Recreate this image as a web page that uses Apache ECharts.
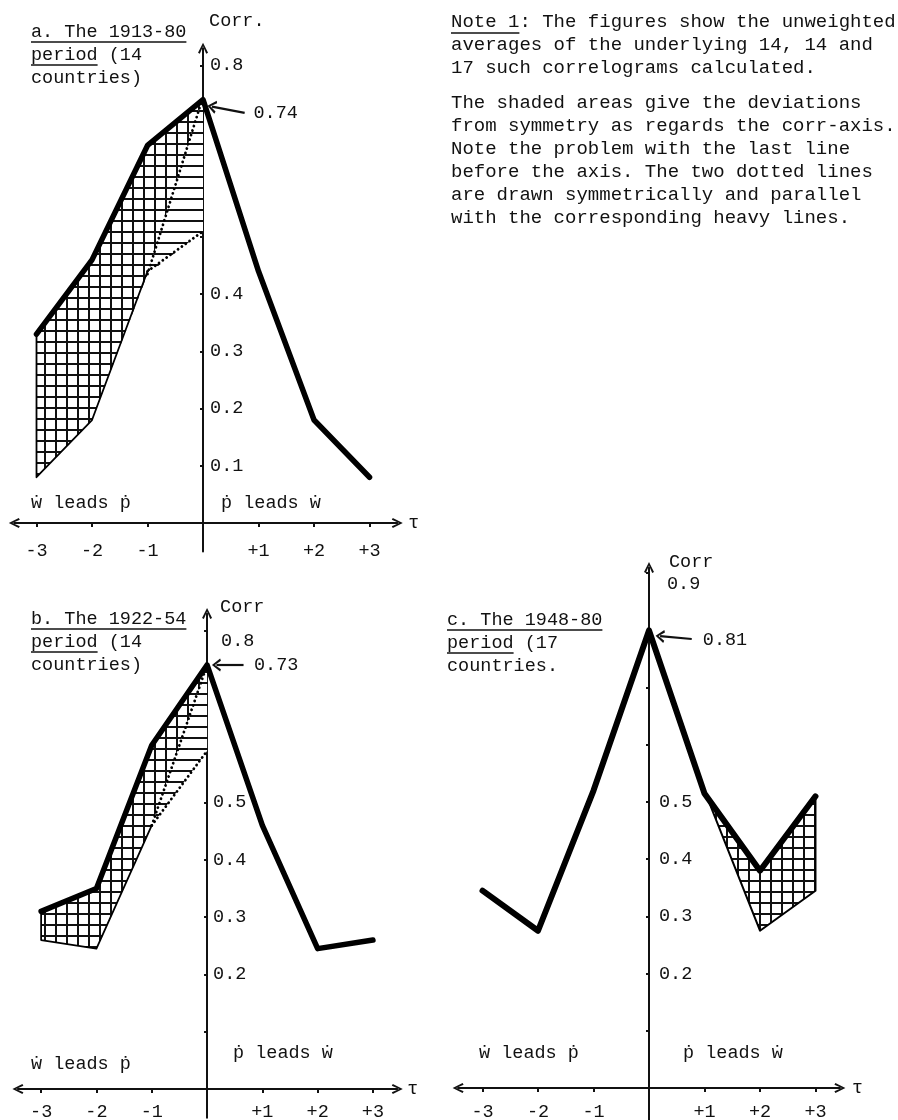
<!DOCTYPE html>
<html><head><meta charset="utf-8">
<script src="https://cdn.jsdelivr.net/npm/echarts@6/dist/echarts.min.js"></script>
<style>html,body{margin:0;padding:0;background:#fff}#c{width:898px;height:1120px}</style>
</head><body><div id="c"></div>
<script>
// ---- data ----
const tau = [-3, -2, -1, 0, 1, 2, 3];
const corrA = [0.33, 0.46, 0.66, 0.74, 0.44, 0.18, 0.08];   // a. 1913-80
const corrB = [0.31, 0.35, 0.60, 0.74, 0.46, 0.245, 0.26];  // b. 1922-54
const corrC = [0.345, 0.275, 0.52, 0.80, 0.515, 0.38, 0.51]; // c. 1948-80
// mirrored (symmetric) boundaries of the shaded areas
const tauLeft = [-3, -2, -1, 0];
const mirrorA = [0.08, 0.18, 0.44, 0.74];
const mirrorB = [0.26, 0.245, 0.46, 0.74];
const tauRight = [0, 1, 2, 3];
const mirrorC = [0.80, 0.52, 0.275, 0.345];
// dotted lines (tau -1 -> 0)
const tauDot = [-1, 0];
const dotSteepA = [0.435, 0.745];
const dotGentleA = [0.44, 0.51];
const dotSteepB = [0.46, 0.74];
const dotGentleB = [0.46, 0.59];
const peakLabels = ['0.74', '0.73', '0.81'];
const xTickValues = [-3, -2, -1, 1, 2, 3];
const yTicksA = [0.1, 0.2, 0.3, 0.4, 0.5, 0.6, 0.7, 0.8];
const yTicksB = [0.1, 0.2, 0.3, 0.4, 0.5, 0.6, 0.7, 0.8];
const yTicksC = [0.1, 0.2, 0.3, 0.4, 0.5, 0.6, 0.7, 0.8, 0.9];
const yLabelsA = [0.1, 0.2, 0.3, 0.4, 0.8];
const yLabelsB = [0.2, 0.3, 0.4, 0.5, 0.8];
const yLabelsC = [0.2, 0.3, 0.4, 0.5, 0.9];
const titleA = ['a. The 1913-80', 'period (14', 'countries)'];
const titleB = ['b. The 1922-54', 'period (14', 'countries)'];
const titleC = ['c. The 1948-80', 'period (17', 'countries.'];
const noteLines = [
  'Note 1: The figures show the unweighted',
  'averages of the underlying 14, 14 and',
  '17 such correlograms calculated.',
  'The shaded areas give the deviations',
  'from symmetry as regards the corr-axis.',
  'Note the problem with the last line',
  'before the axis. The two dotted lines',
  'are drawn symmetrically and parallel',
  'with the corresponding heavy lines.'
];
const leadLeft = '\u1E87 leads \u1E57';
const leadRight = '\u1E57 leads \u1E87';

// ---- styling ----
const FONT = "'Liberation Mono','Courier New',monospace";
const FS = 18.5;
const INK = '#111';
const CW = 11.1; // char width at FS

function hatch(cross) {
  const c = document.createElement('canvas');
  c.width = 11; c.height = 11;
  const g = c.getContext('2d');
  g.fillStyle = '#fff'; g.fillRect(0, 0, 11, 11);
  g.fillStyle = '#111';
  g.fillRect(0, 0, 11, 2);
  if (cross) g.fillRect(0, 0, 2, 11);
  return c;
}
const crossImg = hatch(true), horizImg = hatch(false);

const chevron = 'path://M0,10 L5,0 L10,10 L8.2,11 L5,3.6 L1.8,11 Z';

function pairs(xs, ys) { return xs.map((x, i) => [x, ys[i]]); }

const gridBoxes = [
  {left: 14.3, top: 48.2, width: 383, height: 503.4},
  {left: 17.9, top: 613.4, width: 379.4, height: 504.3},
  {left: 458.1, top: 567.5, width: 381.8, height: 552}
];
const grids = gridBoxes.map(g => Object.assign({}, g, {outerBoundsMode: 'none', containLabel: false}));

const xRanges = [[-3.4, 3.5], [-3.42, 3.44], [-3.44, 3.44]];
const yRanges = [[-0.05, 0.83], [-0.05, 0.83], [-0.055, 0.91]];
const xLabelMargin = [19, 14, 15];
const tauGap = [11, 10, 12];
const corrName = ['Corr.', 'Corr', 'Corr'];
const corrGap = [27, 6, 5];
const corrPad = [6, 13, 20];
const yLabMargin = [7, 6, 10];
const yTicks = [yTicksA, yTicksB, yTicksC];
const yLabels = [yLabelsA, yLabelsB, yLabelsC];
// top label of b and c sits a little lower/right of its tick in the original
const yTopLabel = [null, 0.8, 0.9];

// axes cross at zero: move each axis from the grid edge to the zero of the other axis
const xAxis = xRanges.map((r, i) => {
  const yr = yRanges[i];
  const off = -gridBoxes[i].height * (0 - yr[0]) / (yr[1] - yr[0]);
  return {
    gridIndex: i, type: 'value', min: r[0], max: r[1], position: 'bottom', offset: off,
    axisLine: {onZero: false, lineStyle: {color: INK, width: 2.2},
      symbol: [chevron, chevron], symbolSize: [14, 11]},
    axisTick: {customValues: xTickValues, length: 4, lineStyle: {color: INK, width: 2}},
    axisLabel: {customValues: xTickValues, margin: xLabelMargin[i], color: INK,
      fontFamily: FONT, fontSize: FS, hideOverlap: false,
      formatter: v => (v > 0 ? '+' : '-') + Math.abs(v)},
    splitLine: {show: false},
    name: '\u03C4', nameLocation: 'end', nameGap: tauGap[i], nameMoveOverlap: false,
    nameTextStyle: {color: INK, fontFamily: FONT, fontSize: FS, align: 'left',
      verticalAlign: 'middle', padding: [14, 0, 0, 0]}
  };
});

const yAxis = yRanges.map((r, i) => {
  const xr = xRanges[i];
  const off = -gridBoxes[i].width * (0 - xr[0]) / (xr[1] - xr[0]);
  return {
    gridIndex: i, type: 'value', min: r[0], max: r[1], position: 'left', offset: off,
    axisLine: {onZero: false, lineStyle: {color: INK, width: 2},
      symbol: ['none', chevron], symbolSize: [11, 11]},
    axisTick: {customValues: yTicks[i], length: 3, lineStyle: {color: INK, width: 2}},
    axisLabel: {customValues: yLabels[i], inside: true, margin: yLabMargin[i], color: INK,
      fontFamily: FONT, fontSize: FS, hideOverlap: false,
      formatter: v => (yTopLabel[i] !== null && Math.abs(v - yTopLabel[i]) < 1e-6)
        ? '{top|' + v.toFixed(1) + '}' : v.toFixed(1),
      rich: {top: {fontFamily: FONT, fontSize: FS, color: INK, padding: [22, 0, 0, 8]}}},
    splitLine: {show: false},
    name: corrName[i], nameLocation: 'end', nameGap: corrGap[i], nameMoveOverlap: false,
    nameTextStyle: {color: INK, fontFamily: FONT, fontSize: FS, align: 'left',
      verticalAlign: 'middle', padding: [0, 0, 0, corrPad[i]]}
  };
});

function polySeries(idx, pts, img) {
  return {
    type: 'custom', xAxisIndex: idx, yAxisIndex: idx, coordinateSystem: 'cartesian2d',
    data: pts, silent: true, z: 1, clip: false,
    renderItem: (params, api) => {
      if (params.dataIndex !== 0) return null;
      return {type: 'polygon', shape: {points: pts.map(p => api.coord(p))},
        style: {fill: {image: img, repeat: 'repeat'}, stroke: null}};
    }
  };
}
function lineSeries(idx, data, width, type, extra) {
  return Object.assign({
    type: 'line', xAxisIndex: idx, yAxisIndex: idx, data: data, symbol: 'none',
    silent: true, animation: false, z: 3,
    lineStyle: {color: '#000', width: width, type: type || 'solid', cap: 'round', join: 'round'}
  }, extra || {});
}
function peakAnnot(idx, from, to, labelAt, text) {
  return {
    type: 'line', xAxisIndex: idx, yAxisIndex: idx, data: [], silent: true,
    markLine: {silent: true, animation: false, symbol: ['none', chevron], symbolSize: [13, 9],
      lineStyle: {color: INK, width: 2.2, type: 'solid'}, label: {show: false},
      data: [[{coord: from}, {coord: to}]]},
    markPoint: {silent: true, animation: false, symbol: 'circle', symbolSize: 1,
      itemStyle: {color: 'rgba(0,0,0,0)'},
      label: {show: true, position: 'right', distance: 0, color: INK, fontFamily: FONT,
        fontSize: FS, formatter: text},
      data: [{coord: labelAt}]}
  };
}

// shaded polygons
const polyA = pairs(tau.slice(0, 4), corrA.slice(0, 4)).concat(
  pairs([0, -1], [dotSteepA[1], dotSteepA[0]]), pairs([-2, -3], [mirrorA[1], mirrorA[0]]));
const triA = pairs([-1, 0, 0], [dotSteepA[0], dotSteepA[1], dotGentleA[1]]);
const polyB = pairs(tau.slice(0, 4), corrB.slice(0, 4)).concat(
  pairs([0, -1], [dotSteepB[1], dotSteepB[0]]), pairs([-2, -3], [mirrorB[1], mirrorB[0]]));
const triB = pairs([-1, 0, 0], [dotSteepB[0], dotSteepB[1], dotGentleB[1]]);
const polyC = pairs(tau.slice(3), corrC.slice(3)).concat(pairs(tauRight.slice().reverse(), mirrorC.slice().reverse()));

const DOT = [0.1, 4.6];
const series = [
  polySeries(0, polyA, crossImg),
  polySeries(0, triA, horizImg),
  polySeries(1, polyB, crossImg),
  polySeries(1, triB, horizImg),
  polySeries(2, polyC, crossImg),
  // outlines of shaded areas
  lineSeries(0, [[-3, corrA[0]]].concat(pairs(tauLeft.slice(0, 3), mirrorA.slice(0, 3))), 1.8),
  lineSeries(1, [[-3, corrB[0]]].concat(pairs(tauLeft.slice(0, 3), mirrorB.slice(0, 3))), 1.8),
  lineSeries(2, [[3, corrC[6]]].concat(pairs(tauRight.slice().reverse(), mirrorC.slice().reverse())), 2),
  // dotted lines
  lineSeries(0, pairs(tauDot, dotSteepA), 2.8, DOT),
  lineSeries(0, pairs(tauDot, dotGentleA), 2.8, DOT),
  lineSeries(1, pairs(tauDot, dotSteepB), 2.8, DOT),
  lineSeries(1, pairs(tauDot, dotGentleB), 2.8, DOT),
  // heavy correlogram lines
  lineSeries(0, pairs(tau, corrA), 5.5, 'solid', {z: 5}),
  lineSeries(1, pairs(tau, corrB), 5.5, 'solid', {z: 5}),
  lineSeries(2, pairs(tau, corrC), 6, 'solid', {z: 5}),
  // peak annotations
  peakAnnot(0, [0.75, 0.717], [0.16, 0.728], [0.9, 0.717], peakLabels[0]),
  peakAnnot(1, [0.66, 0.74], [0.17, 0.74], [0.84, 0.74], peakLabels[1]),
  peakAnnot(2, [0.77, 0.785], [0.2, 0.79], [0.96, 0.783], peakLabels[2])
];

// texts
const graphic = [];
function txt(x, y, s, fs) {
  graphic.push({type: 'text', x: x, y: y, silent: true,
    style: {text: s, fill: INK, fontFamily: FONT, fontSize: fs || FS, verticalAlign: 'middle', align: 'left'}});
}
function uline(x, y, nChars, cw) {
  graphic.push({type: 'line', silent: true,
    shape: {x1: x, y1: y, x2: x + nChars * (cw || CW), y2: y}, style: {stroke: INK, lineWidth: 1.6}});
}
function title(x, ys, lines) {
  lines.forEach((l, i) => txt(x, ys[i], l));
  uline(x, ys[0] + 10, lines[0].length);
  uline(x, ys[1] + 10, 6);
}
title(31, [32, 55, 78], titleA);
title(31, [619, 642, 665], titleB);
title(447, [620, 643, 666], titleC);
const noteY = [22, 45, 68, 103, 126, 149, 172, 195, 218];
noteLines.forEach((l, i) => txt(451, noteY[i], l, 19));
uline(451, 33, 6, 11.4);
txt(31, 503, leadLeft); txt(221, 503, leadRight);
txt(31, 1064, leadLeft); txt(233, 1053, leadRight);
txt(479, 1053, leadLeft); txt(683, 1053, leadRight);

const chart = echarts.init(document.getElementById('c'), null, {renderer: 'canvas'});
chart.setOption({
  animation: false,
  backgroundColor: '#fff',
  textStyle: {fontFamily: FONT},
  grid: grids, xAxis: xAxis, yAxis: yAxis, series: series, graphic: graphic
});
</script></body></html>
